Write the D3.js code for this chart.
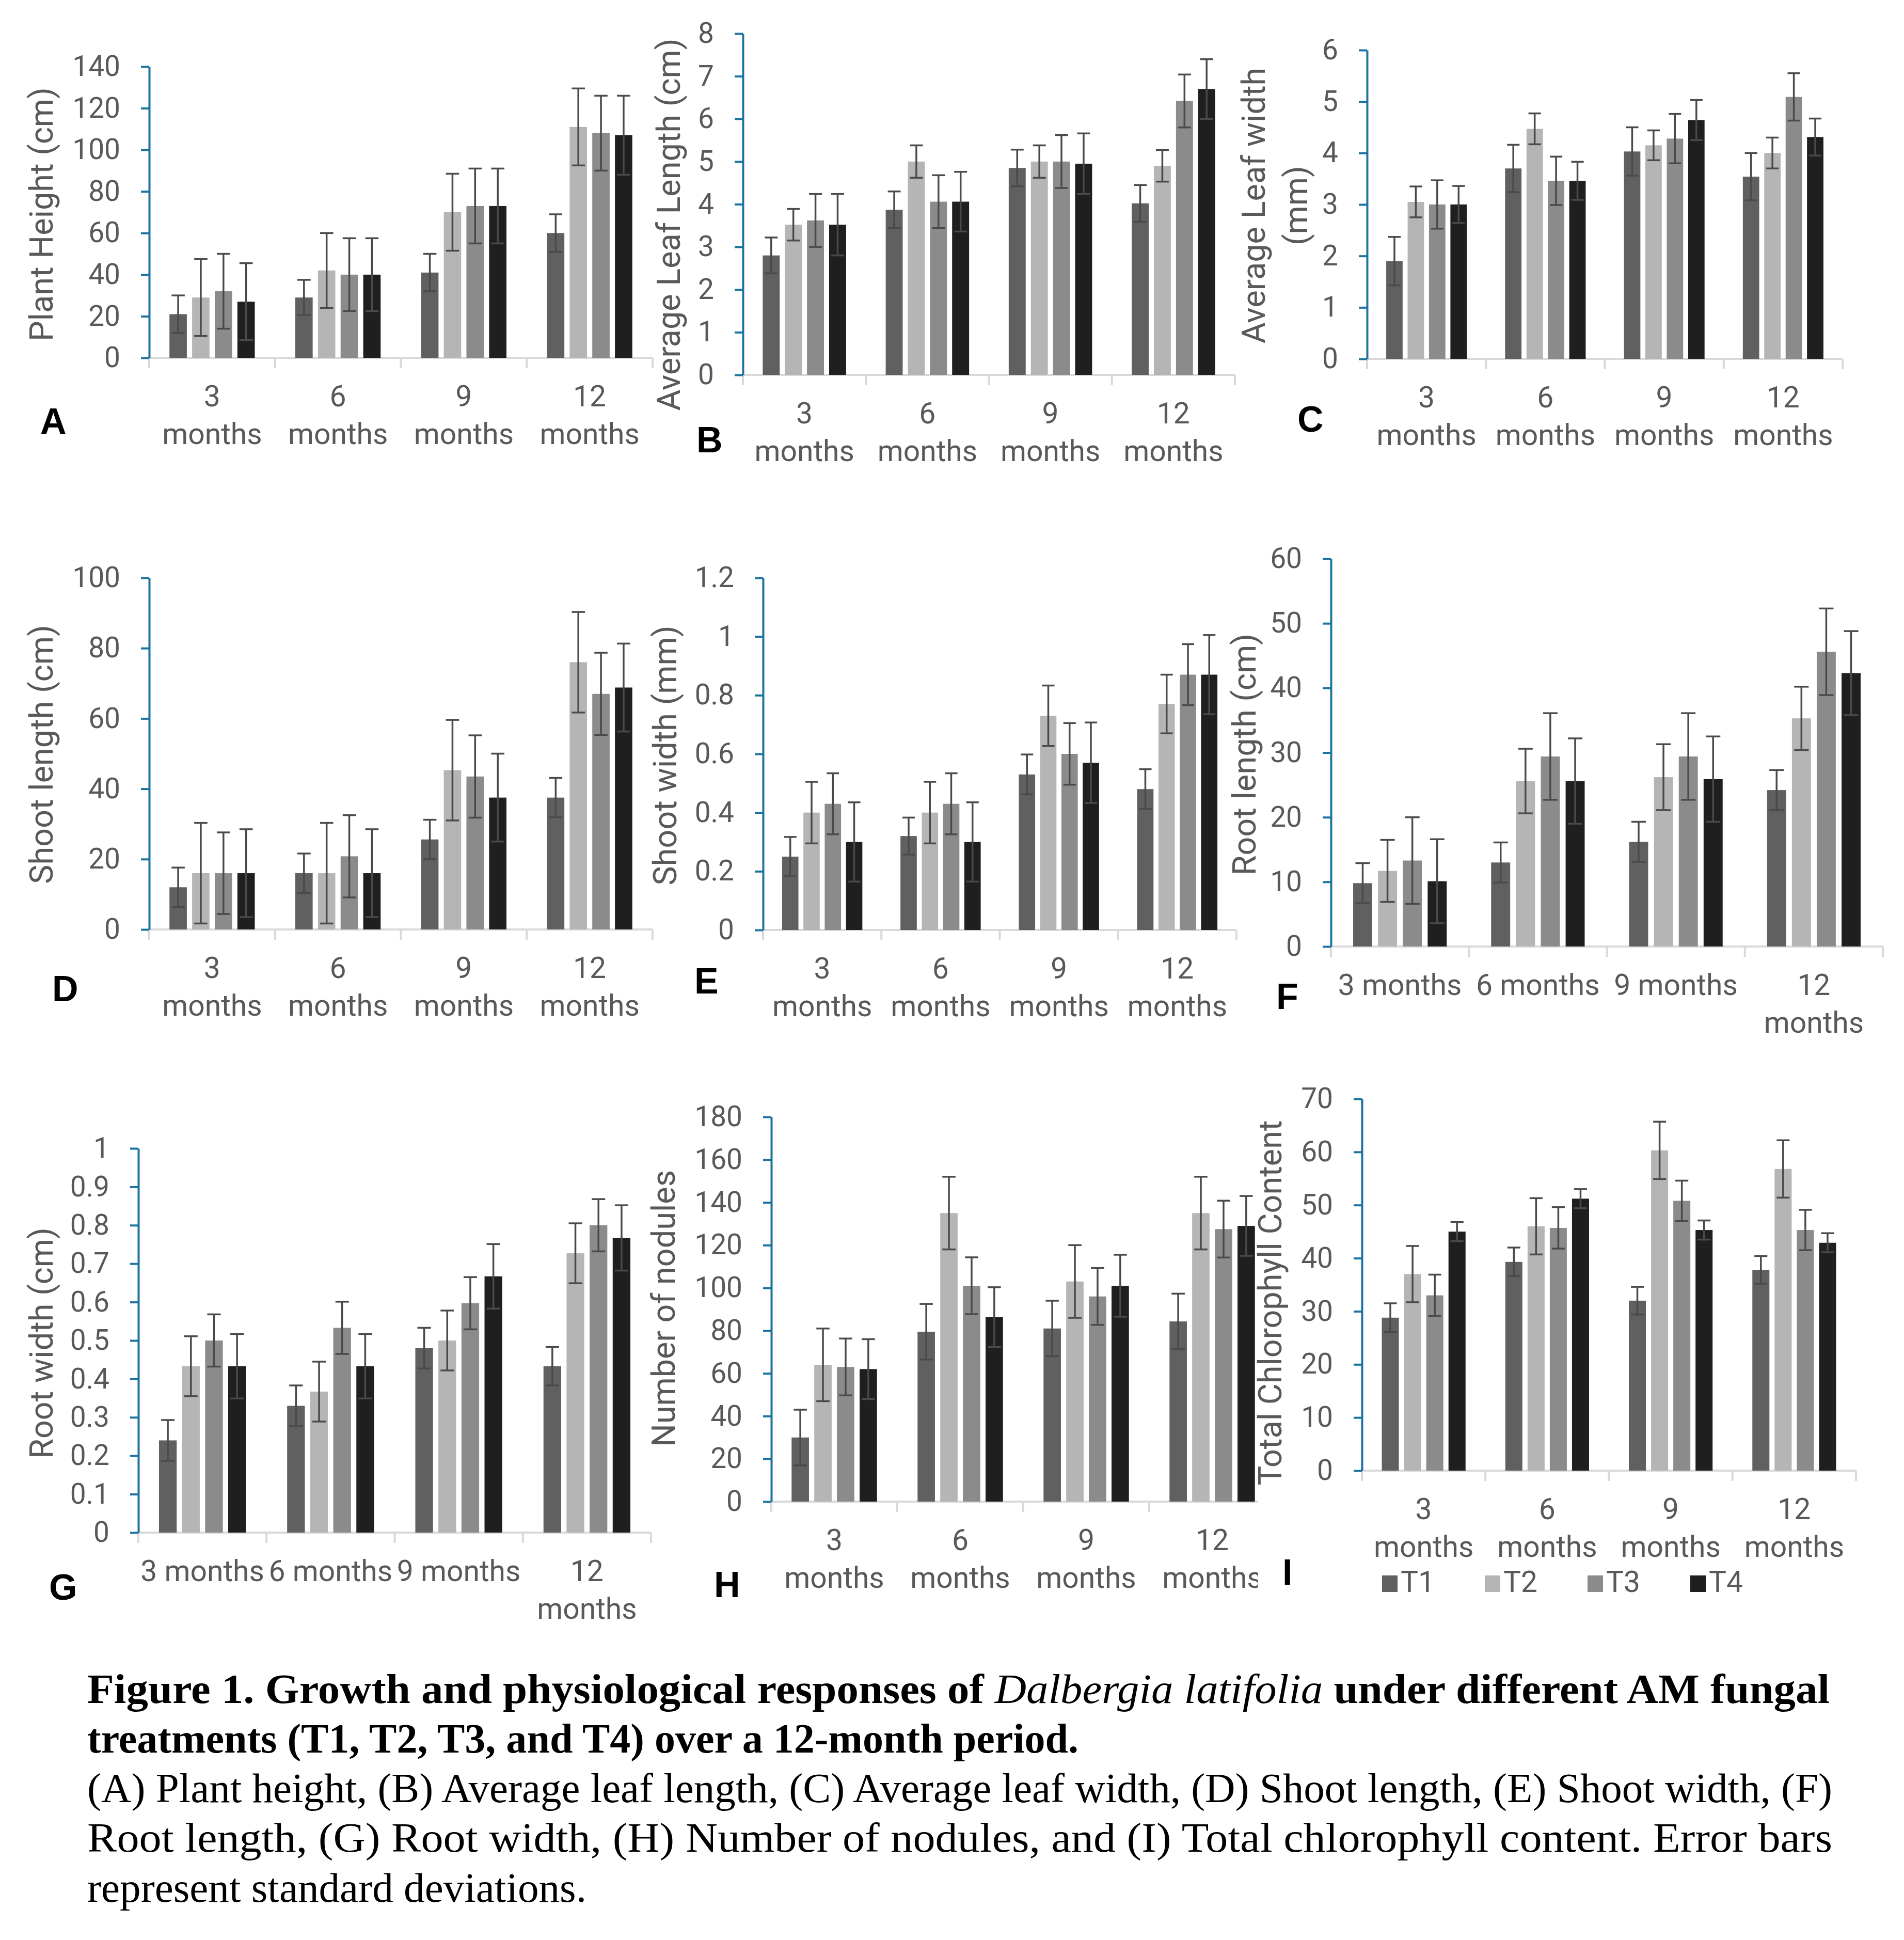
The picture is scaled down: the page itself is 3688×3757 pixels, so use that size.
<!DOCTYPE html>
<html>
<head>
<meta charset="utf-8">
<script src="https://cdn.jsdelivr.net/npm/d3@7"></script>
<style>
  body { margin: 0; background: #fff; }
  svg { display: block; }
</style>
</head>
<body>
<svg id="fig" width="3688" height="3757"></svg>
<script>
// ---- data (rows = period, columns = T1..T4) ----
const treatments = ["T1", "T2", "T3", "T4"];
const periods = ["3 months", "6 months", "9 months", "12 months"];
const labelsTwoLine = [["3", "months"], ["6", "months"], ["9", "months"], ["12", "months"]];
const labelsOneLine = [["3 months"], ["6 months"], ["9 months"], ["12", "months"]];

const plantHeight   = [[21, 29, 32, 27], [29, 42, 40, 40], [41, 70, 73, 73], [60, 111, 108, 107]];
const plantHeightSD = [[9, 18.5, 18, 18.5], [8.5, 18, 17.5, 17.5], [9, 18.5, 18, 18], [9, 18.5, 18, 19]];

const leafLength   = [[2.8, 3.52, 3.62, 3.52], [3.87, 5.0, 4.06, 4.06], [4.85, 5.0, 5.0, 4.95], [4.02, 4.9, 6.42, 6.7]];
const leafLengthSD = [[0.42, 0.37, 0.62, 0.72], [0.43, 0.38, 0.62, 0.7], [0.43, 0.38, 0.62, 0.71], [0.43, 0.37, 0.62, 0.7]];

const leafWidth   = [[1.9, 3.05, 3.0, 3.0], [3.7, 4.47, 3.46, 3.46], [4.03, 4.15, 4.28, 4.64], [3.54, 4.0, 5.09, 4.31]];
const leafWidthSD = [[0.47, 0.3, 0.47, 0.36], [0.46, 0.3, 0.47, 0.37], [0.47, 0.29, 0.48, 0.39], [0.46, 0.3, 0.46, 0.36]];

const shootLength   = [[12, 16, 16, 16], [16, 16, 20.8, 16], [25.6, 45.3, 43.5, 37.5], [37.5, 76, 67, 68.8]];
const shootLengthSD = [[5.6, 14.3, 11.6, 12.5], [5.6, 14.3, 11.7, 12.5], [5.6, 14.3, 11.7, 12.5], [5.6, 14.3, 11.7, 12.5]];

const shootWidth   = [[0.25, 0.4, 0.43, 0.3], [0.32, 0.4, 0.43, 0.3], [0.53, 0.73, 0.6, 0.57], [0.48, 0.77, 0.87, 0.87]];
const shootWidthSD = [[0.067, 0.105, 0.104, 0.135], [0.063, 0.105, 0.104, 0.135], [0.068, 0.103, 0.105, 0.137], [0.068, 0.1, 0.104, 0.135]];

const rootLength   = [[9.8, 11.7, 13.3, 10.1], [13, 25.6, 29.4, 25.6], [16.2, 26.2, 29.4, 25.9], [24.2, 35.3, 45.6, 42.3]];
const rootLengthSD = [[3.1, 4.8, 6.7, 6.5], [3.1, 5.0, 6.7, 6.6], [3.1, 5.1, 6.7, 6.6], [3.1, 4.9, 6.7, 6.5]];

const rootWidth   = [[0.24, 0.433, 0.5, 0.433], [0.33, 0.367, 0.533, 0.433], [0.48, 0.5, 0.597, 0.667], [0.433, 0.727, 0.8, 0.767]];
const rootWidthSD = [[0.053, 0.078, 0.068, 0.084], [0.053, 0.078, 0.068, 0.084], [0.053, 0.078, 0.068, 0.084], [0.05, 0.078, 0.068, 0.085]];

const nodules   = [[30, 64, 63, 62], [79.5, 135, 101, 86.3], [81, 103, 96, 101], [84.3, 135, 127.5, 129]];
const nodulesSD = [[13, 17, 13.3, 14], [13, 17, 13.3, 14], [13, 17, 13.3, 14.5], [13, 17, 13.3, 14]];

const chlorophyll   = [[28.8, 37, 33, 45], [39.3, 46, 45.7, 51.2], [32, 60.3, 50.8, 45.3], [37.8, 56.8, 45.3, 42.9]];
const chlorophyllSD = [[2.7, 5.3, 3.9, 1.8], [2.7, 5.3, 3.9, 1.8], [2.6, 5.4, 3.8, 1.8], [2.6, 5.4, 3.8, 1.8]];

// ---- styles ----
const barColors = ["#606060", "#b5b5b5", "#8b8b8b", "#1f1f1f"];
const axisBlue = "#1b73a0";
const textGray = "#595959";
const errColor = "#4a4a4a";
const sansFont = "Roboto, 'Noto Sans', sans-serif";

// ---- layout, one entry per panel ----
const panels = [
  { letter: "A", title: ["Plant Height (cm)"], mean: plantHeight, sd: plantHeightSD, max: 140, step: 20, labels: labelsTwoLine,
    x0: 289, x1: 1264, yTop: 129, y0: 693, titleX: [80], titleY: 415, lx: 78, ly: 840 },
  { letter: "B", title: ["Average Leaf Length (cm)"], mean: leafLength, sd: leafLengthSD, max: 8, step: 1, labels: labelsTwoLine,
    x0: 1439, x1: 2392, yTop: 65, y0: 726, titleX: [1295], titleY: 435, lx: 1349, ly: 876 },
  { letter: "C", title: ["Average Leaf width", "(mm)"], mean: leafWidth, sd: leafWidthSD, max: 6, step: 1, labels: labelsTwoLine,
    x0: 2648, x1: 3569, yTop: 97, y0: 695, titleX: [2428, 2510], titleY: 398, lx: 2513, ly: 836 },
  { letter: "D", title: ["Shoot length (cm)"], mean: shootLength, sd: shootLengthSD, max: 100, step: 20, labels: labelsTwoLine,
    x0: 289, x1: 1264, yTop: 1119, y0: 1800, titleX: [80], titleY: 1461, lx: 101, ly: 1939 },
  { letter: "E", title: ["Shoot width (mm)"], mean: shootWidth, sd: shootWidthSD, max: 1.2, step: 0.2, labels: labelsTwoLine,
    x0: 1478, x1: 2395, yTop: 1119, y0: 1801, titleX: [1288], titleY: 1463, lx: 1345, ly: 1924 },
  { letter: "F", title: ["Root length (cm)"], mean: rootLength, sd: rootLengthSD, max: 60, step: 10, labels: labelsOneLine,
    x0: 2578, x1: 3647, yTop: 1082, y0: 1833, titleX: [2410], titleY: 1461, lx: 2472, ly: 1954 },
  { letter: "G", title: ["Root width (cm)"], mean: rootWidth, sd: rootWidthSD, max: 1, step: 0.1, labels: labelsOneLine,
    x0: 268, x1: 1261, yTop: 2224, y0: 2968, titleX: [80], titleY: 2601, lx: 95, ly: 3098 },
  { letter: "H", title: ["Number of nodules"], mean: nodules, sd: nodulesSD, max: 180, step: 20, labels: labelsTwoLine,
    x0: 1494, x1: 2470, yTop: 2163, y0: 2908, titleX: [1285], titleY: 2534, lx: 1383, ly: 3093, clipRight: 2437 },
  { letter: "I", title: ["Total Chlorophyll Content"], mean: chlorophyll, sd: chlorophyllSD, max: 70, step: 10, labels: labelsTwoLine,
    x0: 2638, x1: 3595, yTop: 2128, y0: 2848, titleX: [2460], titleY: 2523, lx: 2484, ly: 3069, legend: true }
];

const svg = d3.select("#fig");
svg.append("rect").attr("width", 3688).attr("height", 3757).attr("fill", "#fff");

panels.forEach((p, pi) => {
  let g = svg.append("g");
  if (p.clipRight) {
    svg.append("clipPath").attr("id", "clip" + pi)
      .append("rect").attr("x", 0).attr("y", 0).attr("width", p.clipRight).attr("height", 3757);
    g.attr("clip-path", `url(#clip${pi})`);
  }

  const y = d3.scaleLinear().domain([0, p.max]).range([p.y0, p.yTop]);
  const x = d3.scaleBand().domain(periods).range([p.x0, p.x1]).padding(0);
  const B = x.bandwidth();
  const xs = d3.scaleBand().domain(treatments).range([0.161 * B, 0.839 * B]).paddingInner(0.233).paddingOuter(0);
  const bw = xs.bandwidth();

  // x axis (light gray) with separators at category boundaries
  g.append("line")
    .attr("x1", p.x0).attr("x2", p.x1).attr("y1", p.y0).attr("y2", p.y0)
    .attr("stroke", "#d9d9d9").attr("stroke-width", 4);
  const bounds = periods.map(d => x(d)).concat([p.x1]);
  g.selectAll(".sep").data(bounds).enter().append("line")
    .attr("x1", d => d).attr("x2", d => d)
    .attr("y1", p.y0).attr("y2", p.y0 + 20)
    .attr("stroke", "#d9d9d9").attr("stroke-width", 4);

  // bars
  const groups = g.selectAll(".grp").data(periods).enter().append("g")
    .attr("transform", d => `translate(${x(d)},0)`);

  groups.each(function (per, i) {
    const gg = d3.select(this);
    const rows = treatments.map((t, j) => ({ t, j, m: p.mean[i][j], s: p.sd[i][j] }));
    gg.selectAll("rect").data(rows).enter().append("rect")
      .attr("x", d => xs(d.t))
      .attr("width", bw)
      .attr("y", d => y(d.m))
      .attr("height", d => y(0) - y(d.m))
      .attr("fill", d => barColors[d.j]);

    const cap = bw * 0.38;
    const eb = gg.selectAll(".err").data(rows).enter().append("g");
    eb.append("line")
      .attr("x1", d => xs(d.t) + bw / 2).attr("x2", d => xs(d.t) + bw / 2)
      .attr("y1", d => y(d.m + d.s)).attr("y2", d => y(d.m - d.s));
    eb.append("line")
      .attr("x1", d => xs(d.t) + bw / 2 - cap).attr("x2", d => xs(d.t) + bw / 2 + cap)
      .attr("y1", d => y(d.m + d.s)).attr("y2", d => y(d.m + d.s));
    eb.append("line")
      .attr("x1", d => xs(d.t) + bw / 2 - cap).attr("x2", d => xs(d.t) + bw / 2 + cap)
      .attr("y1", d => y(d.m - d.s)).attr("y2", d => y(d.m - d.s));
    eb.selectAll("line").attr("stroke", errColor).attr("stroke-width", 3.5);
  });

  // y axis (blue)
  const tickVals = d3.range(0, Math.round(p.max / p.step) + 1).map(k => +(k * p.step).toFixed(2));
  const yAxis = d3.axisLeft(y).tickValues(tickVals).tickFormat(d => String(d))
    .tickSize(16).tickSizeOuter(0).tickPadding(40);
  const ya = g.append("g").attr("transform", `translate(${p.x0},0)`).call(yAxis);
  ya.select(".domain").attr("stroke", axisBlue).attr("stroke-width", 4);
  ya.selectAll(".tick line").attr("stroke", axisBlue).attr("stroke-width", 4);
  ya.selectAll(".tick text")
    .attr("fill", textGray).attr("font-size", 55).attr("font-family", sansFont);

  // category labels
  periods.forEach((per, i) => {
    const lines = p.labels[i];
    const t = g.append("text")
      .attr("x", x(per) + B / 2).attr("y", p.y0 + 94)
      .attr("text-anchor", "middle").attr("fill", textGray)
      .attr("font-size", 57).attr("font-family", sansFont);
    lines.forEach((ln, k) => {
      t.append("tspan").attr("x", x(per) + B / 2).attr("dy", k === 0 ? 0 : 73).text(ln);
    });
  });

  // y-axis title
  p.title.forEach((ln, k) => {
    g.append("text")
      .attr("transform", `translate(${p.titleX[k]},${p.titleY}) rotate(-90)`)
      .attr("text-anchor", "middle").attr("dy", "0.35em")
      .attr("fill", textGray).attr("font-size", 63).attr("font-family", sansFont)
      .text(ln);
  });

  // panel letter
  svg.append("text")
    .attr("x", p.lx).attr("y", p.ly)
    .attr("font-family", "'Liberation Sans', Arial, sans-serif").attr("font-weight", "bold")
    .attr("font-size", 70).attr("fill", "#000")
    .text(p.letter);

  // legend under panel I
  if (p.legend) {
    const lg = svg.append("g").attr("transform", "translate(2677,3083)");
    const item = lg.selectAll("g").data(treatments).enter().append("g")
      .attr("transform", (d, j) => `translate(${j * 199},0)`);
    item.append("rect").attr("x", 0).attr("y", -32).attr("width", 30).attr("height", 32)
      .attr("fill", (d, j) => barColors[j]);
    item.append("text").attr("x", 36).attr("y", 0)
      .attr("fill", textGray).attr("font-size", 57).attr("font-family", sansFont)
      .text(d => d);
  }
});

// ---- caption ----
const capLeft = 169;
const capLines = [
  { y: 3298, len: 3375, parts: [
      { t: "Figure 1. Growth and physiological responses of ", w: "bold", s: "normal" },
      { t: "Dalbergia latifolia", w: "normal", s: "italic" },
      { t: " under different AM fungal", w: "bold", s: "normal" } ] },
  { y: 3394, len: 1920, parts: [
      { t: "treatments (T1, T2, T3, and T4) over a 12-month period.", w: "bold", s: "normal" } ] },
  { y: 3490, len: 3380, parts: [
      { t: "(A) Plant height, (B) Average leaf length, (C) Average leaf width, (D) Shoot length, (E) Shoot width, (F)", w: "normal", s: "normal" } ] },
  { y: 3586, len: 3380, parts: [
      { t: "Root length, (G) Root width, (H) Number of nodules, and (I) Total chlorophyll content. Error bars", w: "normal", s: "normal" } ] },
  { y: 3683, len: 967, parts: [
      { t: "represent standard deviations.", w: "normal", s: "normal" } ] }
];
capLines.forEach(line => {
  const t = svg.append("text")
    .attr("x", capLeft).attr("y", line.y)
    .attr("font-family", "'Liberation Serif', 'Times New Roman', serif")
    .attr("font-size", 80).attr("fill", "#000")
    .attr("textLength", line.len).attr("lengthAdjust", "spacingAndGlyphs")
    .attr("xml:space", "preserve");
  line.parts.forEach(pt => {
    t.append("tspan").attr("font-weight", pt.w).attr("font-style", pt.s).text(pt.t);
  });
});
</script>
</body>
</html>
